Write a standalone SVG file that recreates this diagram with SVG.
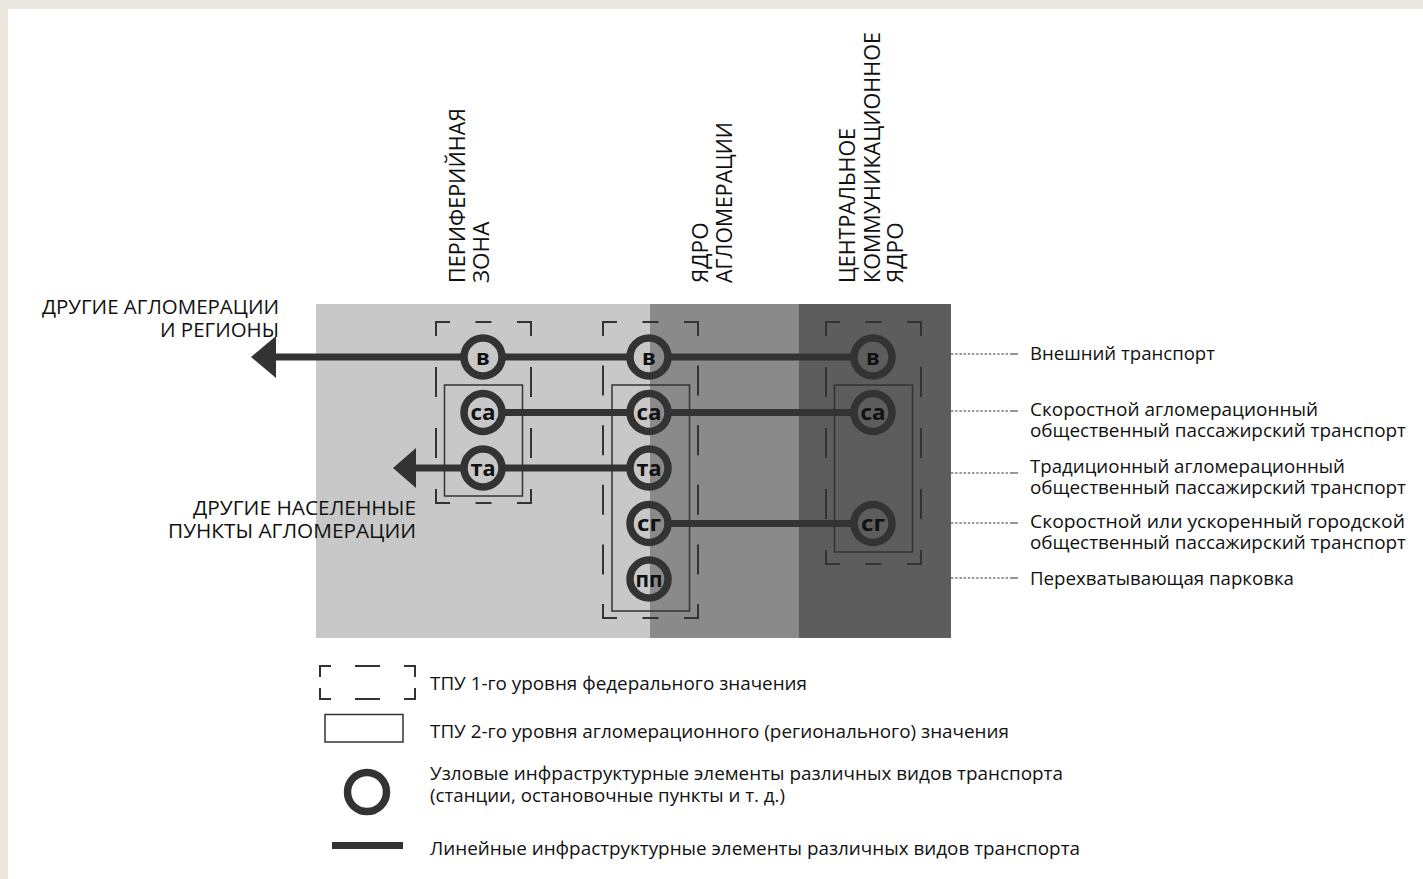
<svg xmlns="http://www.w3.org/2000/svg" width="1423" height="879" viewBox="0 0 1423 879">
  <style>
    .lbl { font-family: "Open Sans", "Liberation Sans", sans-serif; fill: #111; font-weight: 500; }
    .cap { font-size: 20.5px; }
    .vert { font-size: 22.5px; }
    .note { font-size: 18.5px; }
    .node-text { font-family: "Open Sans", "Liberation Sans", sans-serif; font-weight: 700; font-size: 22px; fill: #111; text-anchor: middle; }
    .ring { fill: none; stroke: #333; stroke-width: 7.5; }
    .track { stroke: #333; stroke-width: 7; fill: none; }
    .tpu1 { fill: none; stroke: #333; stroke-width: 2; }
    .tpu2 { fill: none; stroke: #333; stroke-width: 1.5; }
    .leader { stroke: #333; stroke-width: 1.2; fill: none; }
  </style>

  <!-- page -->
  <rect x="0" y="0" width="1423" height="879" fill="#ece8e0"/>
  <rect x="8" y="9" width="1415" height="870" fill="#ffffff"/>

  <!-- zones -->
  <g id="zones">
    <rect x="316" y="304" width="334" height="334" fill="#c8c8c8"/>
    <rect x="650" y="304" width="149" height="334" fill="#8a8a8a"/>
    <rect x="799" y="304" width="152" height="334" fill="#5d5d5d"/>
  </g>

  <!-- zone titles -->
  <g id="zone-titles" class="lbl vert">
    <text transform="translate(465,283) rotate(-90)" textLength="175" lengthAdjust="spacingAndGlyphs">ПЕРИФЕРИЙНАЯ</text>
    <text transform="translate(489,283) rotate(-90)">ЗОНА</text>
    <text transform="translate(708,283) rotate(-90)">ЯДРО</text>
    <text transform="translate(732,283) rotate(-90)" textLength="161" lengthAdjust="spacingAndGlyphs">АГЛОМЕРАЦИИ</text>
    <text transform="translate(855,283) rotate(-90)" textLength="155" lengthAdjust="spacingAndGlyphs">ЦЕНТРАЛЬНОЕ</text>
    <text transform="translate(880,283) rotate(-90)" textLength="251" lengthAdjust="spacingAndGlyphs">КОММУНИКАЦИОННОЕ</text>
    <text transform="translate(903,283) rotate(-90)">ЯДРО</text>
  </g>

  <!-- transport lines -->
  <g id="connectors">
    <path class="track" d="M274,357 H464 M502,357 H630 M668,357 H854"/>
    <polygon points="251,357 276,336 276,378" fill="#333"/>
    <path class="track" d="M502,412.5 H630 M668,412.5 H854"/>
    <path class="track" d="M414,468 H464 M502,468 H630"/>
    <polygon points="393,468 416,448 416,488" fill="#333"/>
    <path class="track" d="M668,523.5 H854"/>
  </g>

  <!-- federal-level hubs (dashed) -->
  <g id="hub1-periphery">
    <path class="tpu1" d="M436,336 V322 H450 M475.5,322 H491.5 M517,322 H531 V336
      M436,489 V503 H450 M475.5,503 H491.5 M517,503 H531 V489
      M436,367 V397 M436,428 V458 M531,367 V397 M531,428 V458"/>
  </g>
  <g id="hub1-core">
    <path class="tpu1" d="M603,336 V322 H617 M642.5,322 H658.5 M684,322 H698 V336
      M603,604 V618 H617 M642.5,618 H658.5 M684,618 H698 V604
      M603,365.6 V395.6 M603,425.2 V455.2 M603,484.8 V514.8 M603,544.4 V574.4
      M698,365.6 V395.6 M698,425.2 V455.2 M698,484.8 V514.8 M698,544.4 V574.4"/>
  </g>
  <g id="hub1-center">
    <path class="tpu1" d="M826,336 V322 H840 M865.5,322 H881.5 M907,322 H921 V336
      M826,550 V564 H840 M865.5,564 H881.5 M907,564 H921 V550
      M826,367 V397 M826,428 V458 M826,489 V519
      M921,367 V397 M921,428 V458 M921,489 V519"/>
  </g>

  <!-- agglomeration-level hubs (solid) -->
  <g id="hub2-periphery"><rect class="tpu2" x="444.5" y="385" width="78" height="111"/></g>
  <g id="hub2-core"><rect class="tpu2" x="612" y="385" width="77.5" height="226"/></g>
  <g id="hub2-center"><rect class="tpu2" x="834.5" y="385" width="78" height="167"/></g>

  <!-- stations -->
  <g id="node-p-v"><circle class="ring" cx="483" cy="357" r="19"/><text class="node-text" x="483" y="364.5">в</text></g>
  <g id="node-p-sa"><circle class="ring" cx="483" cy="412.5" r="19"/><text class="node-text" x="483" y="420" textLength="25" lengthAdjust="spacingAndGlyphs">са</text></g>
  <g id="node-p-ta"><circle class="ring" cx="483" cy="468" r="19"/><text class="node-text" x="483" y="475.5" textLength="25" lengthAdjust="spacingAndGlyphs">та</text></g>

  <g id="node-c-v"><circle class="ring" cx="649" cy="357" r="19"/><text class="node-text" x="649" y="364.5">в</text></g>
  <g id="node-c-sa"><circle class="ring" cx="649" cy="412.5" r="19"/><text class="node-text" x="649" y="420" textLength="25" lengthAdjust="spacingAndGlyphs">са</text></g>
  <g id="node-c-ta"><circle class="ring" cx="649" cy="468" r="19"/><text class="node-text" x="649" y="475.5" textLength="25" lengthAdjust="spacingAndGlyphs">та</text></g>
  <g id="node-c-sg"><circle class="ring" cx="649" cy="523.5" r="19"/><text class="node-text" x="649" y="531" textLength="24" lengthAdjust="spacingAndGlyphs">сг</text></g>
  <g id="node-c-pp"><circle class="ring" cx="649" cy="579" r="19"/><text class="node-text" x="649" y="586.5" textLength="27" lengthAdjust="spacingAndGlyphs">пп</text></g>

  <g id="node-k-v"><circle class="ring" cx="873" cy="357" r="19"/><text class="node-text" x="873" y="364.5">в</text></g>
  <g id="node-k-sa"><circle class="ring" cx="873" cy="412.5" r="19"/><text class="node-text" x="873" y="420" textLength="25" lengthAdjust="spacingAndGlyphs">са</text></g>
  <g id="node-k-sg"><circle class="ring" cx="873" cy="523.5" r="19"/><text class="node-text" x="873" y="531" textLength="24" lengthAdjust="spacingAndGlyphs">сг</text></g>

  <!-- outward destinations -->
  <g id="dest-regions" class="lbl cap" text-anchor="end">
    <text x="279" y="314" textLength="237" lengthAdjust="spacingAndGlyphs">ДРУГИЕ АГЛОМЕРАЦИИ</text>
    <text x="279" y="337" textLength="119" lengthAdjust="spacingAndGlyphs">И РЕГИОНЫ</text>
  </g>
  <g id="dest-settlements" class="lbl cap" text-anchor="end">
    <text x="416" y="515" textLength="223" lengthAdjust="spacingAndGlyphs">ДРУГИЕ НАСЕЛЕННЫЕ</text>
    <text x="416" y="538" textLength="248" lengthAdjust="spacingAndGlyphs">ПУНКТЫ АГЛОМЕРАЦИИ</text>
  </g>

  <!-- mode captions -->
  <g id="leaders">
    <path class="leader" stroke-dasharray="2.4 1.8" d="M951,354 H1009 M951,411 H1009 M951,473 H1009 M951,523 H1009 M951,578 H1009"/>
    <path class="leader" d="M1010,354 H1018 M1010,411 H1018 M1010,473 H1018 M1010,523 H1018 M1010,578 H1018"/>
  </g>
  <g id="mode-captions" class="lbl note">
    <text x="1030" y="360" textLength="185" lengthAdjust="spacingAndGlyphs">Внешний транспорт</text>
    <text x="1030" y="416" textLength="288" lengthAdjust="spacingAndGlyphs">Скоростной агломерационный</text>
    <text x="1030" y="437" textLength="376" lengthAdjust="spacingAndGlyphs">общественный пассажирский транспорт</text>
    <text x="1030" y="472.5" textLength="315" lengthAdjust="spacingAndGlyphs">Традиционный агломерационный</text>
    <text x="1030" y="493.5" textLength="376" lengthAdjust="spacingAndGlyphs">общественный пассажирский транспорт</text>
    <text x="1030" y="528" textLength="375" lengthAdjust="spacingAndGlyphs">Скоростной или ускоренный городской</text>
    <text x="1030" y="549" textLength="376" lengthAdjust="spacingAndGlyphs">общественный пассажирский транспорт</text>
    <text x="1030" y="584.5" textLength="264" lengthAdjust="spacingAndGlyphs">Перехватывающая парковка</text>
  </g>

  <!-- legend -->
  <g id="legend">
    <path class="tpu1" d="M320,677 V666 H331 M355,666 H380 M404,666 H415 V677
      M320,688 V699 H331 M355,699 H380 M404,699 H415 V688"/>
    <rect class="tpu2" x="325" y="714.5" width="78" height="27.5"/>
    <circle class="ring" cx="367" cy="792" r="19.5"/>
    <line class="track" x1="332" y1="845.5" x2="403" y2="845.5" stroke-width="9"/>
    <g class="lbl note">
      <text x="430" y="690" textLength="377" lengthAdjust="spacingAndGlyphs">ТПУ 1-го уровня федерального значения</text>
      <text x="430" y="738" textLength="579" lengthAdjust="spacingAndGlyphs">ТПУ 2-го уровня агломерационного (регионального) значения</text>
      <text x="430" y="780" textLength="633" lengthAdjust="spacingAndGlyphs">Узловые инфраструктурные элементы различных видов транспорта</text>
      <text x="430" y="802" textLength="355" lengthAdjust="spacingAndGlyphs">(станции, остановочные пункты и т. д.)</text>
      <text x="430" y="855" textLength="650" lengthAdjust="spacingAndGlyphs">Линейные инфраструктурные элементы различных видов транспорта</text>
    </g>
  </g>
</svg>
